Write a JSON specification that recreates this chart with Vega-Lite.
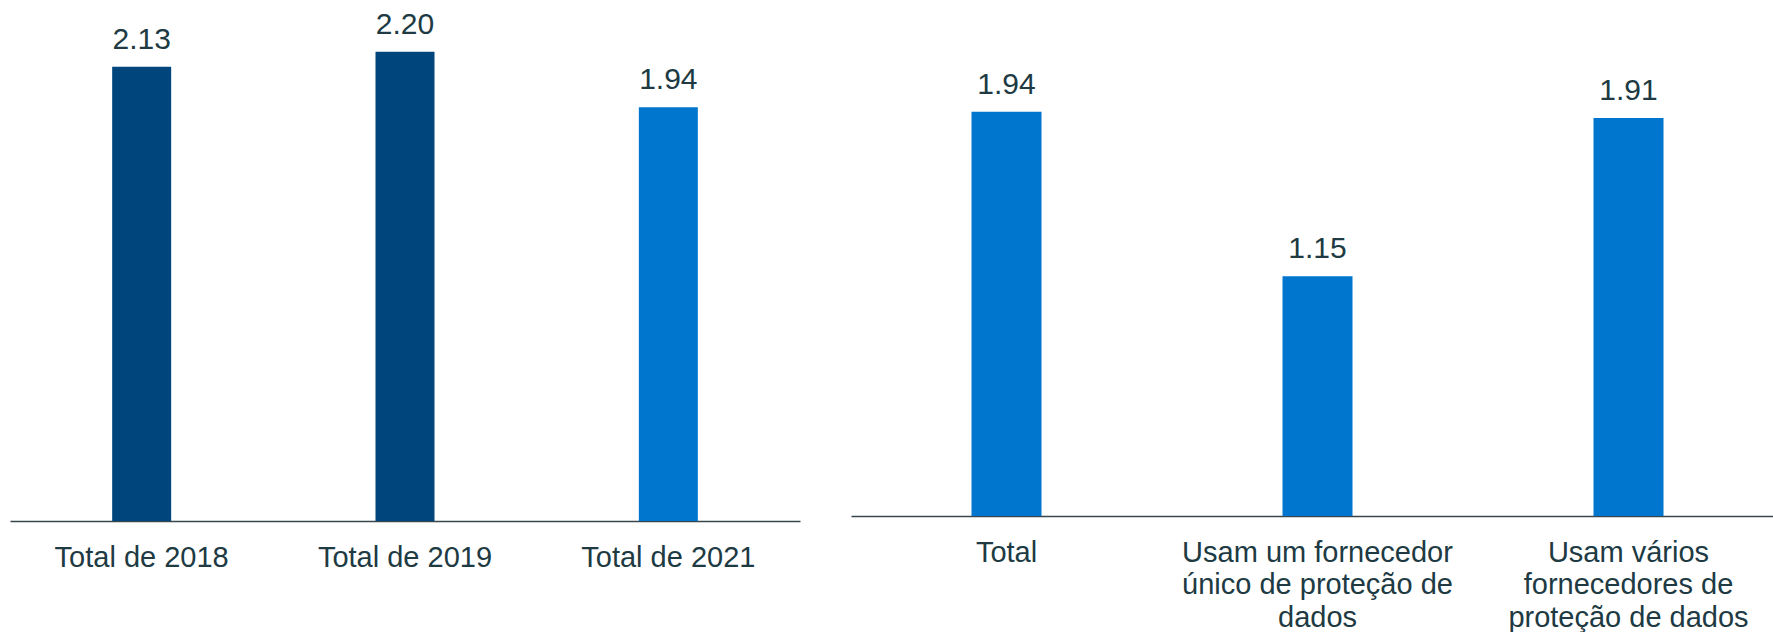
{
  "$schema": "https://vega.github.io/schema/vega-lite/v6.json",
  "padding": {"left": 10, "top": 0, "right": 0, "bottom": 0},
  "background": "white",
  "spacing": 51,
  "config": {
    "view": {"stroke": null},
    "font": "Liberation Sans",
    "axis": {
      "domainColor": "#38474d",
      "domainWidth": 1.5,
      "ticks": false,
      "grid": false,
      "labelFontSize": 29,
      "labelColor": "#203a43",
      "labelPadding": 22,
      "labelLineHeight": 32.5,
      "labelLimit": 0,
      "labelAngle": 0,
      "labelFont": "Liberation Sans"
    }
  },
  "hconcat": [
    {
      "width": 790,
      "height": 521,
      "data": {"values": [
        {"cat": "Total de 2018", "value": 2.13, "grp": "prior"},
        {"cat": "Total de 2019", "value": 2.20, "grp": "prior"},
        {"cat": "Total de 2021", "value": 1.94, "grp": "current"}
      ]},
      "encoding": {
        "x": {"field": "cat", "type": "nominal", "sort": null,
              "scale": {"paddingInner": 0, "paddingOuter": 0},
              "axis": {"title": null, "labelExpr": "split(datum.label, '|')"}},
        "y": {"field": "value", "type": "quantitative",
              "scale": {"domain": [0, 2.4426], "nice": false, "zero": true},
              "axis": null}
      },
      "layer": [
        {"mark": {"type": "bar", "width": 59},
         "encoding": {"color": {"field": "grp", "type": "nominal",
           "scale": {"domain": ["prior", "current"], "range": ["#00467d", "#0076ce"]},
           "legend": null}}},
        {"mark": {"type": "text", "dy": -18, "baseline": "alphabetic", "fontSize": 30, "color": "#203a43", "font": "Liberation Sans"},
         "encoding": {"text": {"field": "value", "type": "quantitative", "format": ".2f"}}}
      ]
    },
    {
      "width": 933,
      "height": 516,
      "data": {"values": [
        {"cat": "Total", "value": 1.94, "grp": "current"},
        {"cat": "Usam um fornecedor|único de proteção de|dados", "value": 1.15, "grp": "current"},
        {"cat": "Usam vários|fornecedores de|proteção de dados", "value": 1.91, "grp": "current"}
      ]},
      "encoding": {
        "x": {"field": "cat", "type": "nominal", "sort": null,
              "scale": {"paddingInner": 0, "paddingOuter": 0},
              "axis": {"title": null, "labelExpr": "split(datum.label, '|')"}},
        "y": {"field": "value", "type": "quantitative",
              "scale": {"domain": [0, 2.476], "nice": false, "zero": true},
              "axis": null}
      },
      "layer": [
        {"mark": {"type": "bar", "width": 70},
         "encoding": {"color": {"field": "grp", "type": "nominal",
           "scale": {"domain": ["prior", "current"], "range": ["#00467d", "#0076ce"]},
           "legend": null}}},
        {"mark": {"type": "text", "dy": -18, "baseline": "alphabetic", "fontSize": 30, "color": "#203a43", "font": "Liberation Sans"},
         "encoding": {"text": {"field": "value", "type": "quantitative", "format": ".2f"}}}
      ]
    }
  ]
}
